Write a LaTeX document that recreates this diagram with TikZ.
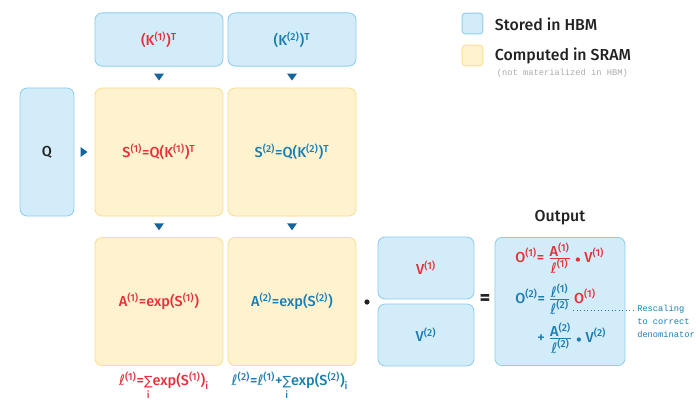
\documentclass[tikz,border=0pt]{standalone}
\usepackage{fontspec}
\usepackage{amsmath}
\usetikzlibrary{calc}
\setmainfont{Fira Sans}[UprightFont=* Medium]
\setmonofont{Liberation Mono}
\newfontfamily\dejavu{DejaVu Sans}
\definecolor{hbmfill}{HTML}{D3ECFA}
\definecolor{hbmdraw}{HTML}{8ECDEE}
\definecolor{sramfill}{HTML}{FFF3CF}
\definecolor{sramdraw}{HTML}{F8DE90}
\definecolor{redc}{HTML}{E5303A}
\definecolor{bluec}{HTML}{1C7DB0}
\definecolor{arrowc}{HTML}{16649C}
\definecolor{inkc}{HTML}{222222}
\definecolor{grayc}{HTML}{AAAAAA}
\newcommand{\su}[1]{\textsuperscript{(#1)}}
\newcommand{\lsym}{{\dejavu ℓ}}
\newcommand{\fr}[2]{$\tfrac{\mbox{#1}}{\mbox{#2}}$}
\newcommand{\sumi}{$\mathop{\mbox{\dejavu\small∑}}\limits_{\mbox{\scriptsize i}}$}
\newcommand{\mdot}{{\scriptsize$\bullet$}}
\newcommand{\tdown}[1]{\fill[arrowc] (#1) ++(-5,-3.5) -- ++(10,0) -- ++(-5,7) -- cycle;}
\newcommand{\tright}[1]{\fill[arrowc] (#1) ++(-3.5,-5) -- ++(0,10) -- ++(7,-5) -- cycle;}

\begin{document}
\begin{tikzpicture}[x=0.025cm,y=-0.025cm,font=\fontsize{10.3}{12}\selectfont,
  hbm/.style={draw=hbmdraw,fill=hbmfill,rounded corners=0.18cm,line width=0.6pt,inner sep=0pt},
  sram/.style={draw=sramdraw,fill=sramfill,rounded corners=0.18cm,line width=0.6pt,inner sep=0pt},
  big/.style={minimum width=3.2cm,minimum height=3.2cm},
  wide/.style={minimum width=3.2cm,minimum height=1.33cm}]
   \path[use as bounding box] (0,0) rectangle (698,416);
   % K blocks
   \node[hbm,wide,text=redc]  (k1) at (159,39.5) {(K\su{1})\textsuperscript{T}};
   \node[hbm,wide,text=bluec] (k2) at (292,39.5) {(K\su{2})\textsuperscript{T}};
   % Q block
   \node[hbm,minimum width=1.35cm,minimum height=3.2cm,text=inkc] (q) at (47,152) {Q};
   % scores
   \node[sram,big,text=redc]  (s1) at (159,152) {S\su{1}=Q(K\su{1})\textsuperscript{T}};
   \node[sram,big,text=bluec] (s2) at (292,152) {S\su{2}=Q(K\su{2})\textsuperscript{T}};
   % exp
   \node[sram,big,text=redc]  (a1) at (159,301.5) {A\su{1}=exp(S\su{1})};
   \node[sram,big,text=bluec] (a2) at (292,301.5) {A\su{2}=exp(S\su{2})};
   % V blocks
   \node[hbm,minimum width=2.4cm,minimum height=1.55cm,text=redc]  (v1) at (426,268) {V\su{1}};
   \node[hbm,minimum width=2.4cm,minimum height=1.55cm,text=bluec] (v2) at (426,335) {V\su{2}};
   % markers
   \tdown{$(k1.south)!0.5!(s1.north)$}
   \tdown{$(k2.south)!0.5!(s2.north)$}
   \tdown{$(s1.south)!0.5!(a1.north)$}
   \tdown{$(s2.south)!0.5!(a2.north)$}
   \tright{84,152}
   \fill[inkc] (367,302) circle (2.6);
   \node[text=inkc,font=\fontsize{14}{14}\selectfont\bfseries] (eq) at (485,300) {=};
   % output
   \node[hbm,minimum width=3.25cm,minimum height=3.2cm] (out) at (560,301.5) {};
   \node[text=inkc,font=\fontsize{11.3}{13}\selectfont] (outl) at (560,218) {Output};
   \node[anchor=west,inner sep=0pt,text=redc]  (o1) at (515,258) {O\su{1}= \fr{A\su{1}}{\lsym\su{1}} \mdot\ V\su{1}};
   \node[anchor=west,inner sep=0pt,text=bluec] (o2) at (515,299) {O\su{2}= \fr{\lsym\su{1}}{\lsym\su{2}}\ \textcolor{redc}{O\su{1}}};
   \node[anchor=west,inner sep=0pt,text=bluec] (o3) at (537,338) {+ \fr{A\su{2}}{\lsym\su{2}} \mdot\ V\su{2}};
   \coordinate (rs) at (573,310);
   \node[anchor=north west,align=left,text=bluec,inner sep=0pt,
     font=\fontsize{6.2}{9.2}\ttfamily] (resc) at (637,305) {Rescaling\\to correct\\denominator};
   \draw[bluec,dotted,line width=0.5pt] (rs) -- ($(resc.north west |- rs)+(-4,0)$);
   % sums
   \node[text=redc]  (l1) at (164,386) {\lsym\su{1}=\sumi exp(S\su{1})\textsubscript{i}};
   \node[text=bluec] (l2) at (290,386) {\lsym\su{2}=\lsym\su{1}+\sumi exp(S\su{2})\textsubscript{i}};
   % legend
   \node[hbm,minimum size=0.52cm,rounded corners=0.08cm] (lg1) at (472.5,23.5) {};
   \node[sram,minimum size=0.52cm,rounded corners=0.08cm] (lg2) at (472.5,55.5) {};
   \node[anchor=west,text=inkc,font=\fontsize{11.3}{13}\selectfont] (lt1) at (490,24) {Stored in HBM};
   \node[anchor=west,text=inkc,font=\fontsize{11.3}{13}\selectfont] (lt2) at (490,56) {Computed in SRAM};
   \node[anchor=west,text=grayc,font=\fontsize{6.2}{8}\ttfamily] (lt3) at (492,73) {(not materialized in HBM)};
\end{tikzpicture}
\end{document}
